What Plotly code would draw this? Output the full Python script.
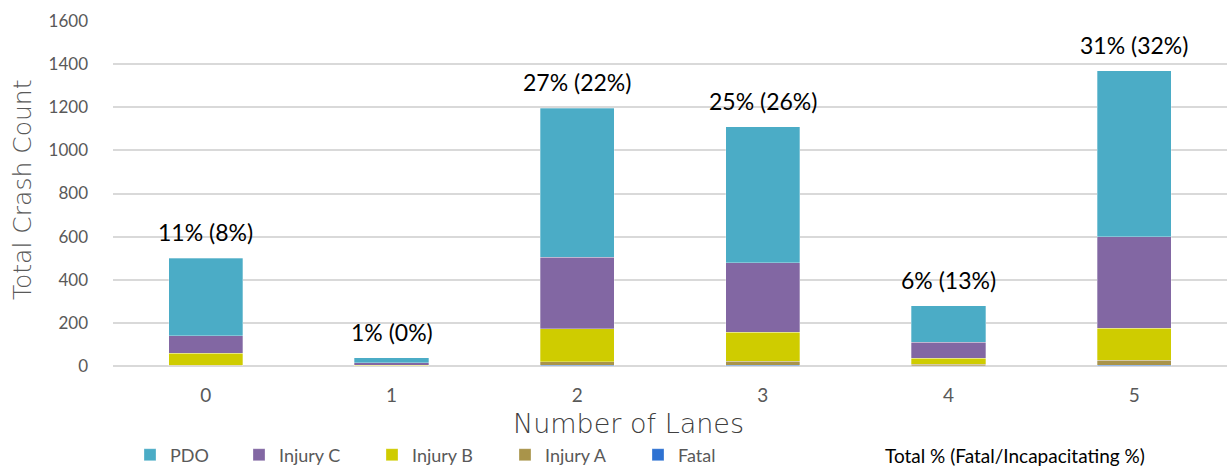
import plotly.graph_objects as go

lanes = ["0", "1", "2", "3", "4", "5"]
fatal = [1, 0, 3, 3, 1, 4]
injury_a = [3, 1, 17, 19, 7, 22]
injury_b = [56, 2, 152, 134, 29, 150]
injury_c = [80, 13, 333, 322, 74, 424]
pdo = [360, 22, 690, 632, 169, 770]
total_pct = ["11%", "1%", "27%", "25%", "6%", "31%"]
fatal_pct = ["8%", "0%", "22%", "26%", "13%", "32%"]

series = [
    ("Fatal", fatal, "#2E72D2", "legend2"),
    ("Injury A", injury_a, "#A9944A", "legend2"),
    ("Injury B", injury_b, "#CFCC00", "legend2"),
    ("Injury C", injury_c, "#8267A3", "legend2"),
    ("PDO", pdo, "#4BACC6", "legend"),
]

fig = go.Figure()
for name, vals, col, lg in series:
    fig.add_trace(go.Bar(x=lanes, y=vals, name=name, legend=lg,
                         marker=dict(color=col, line=dict(color="rgba(255,255,255,0.6)", width=0.5))))

totals = [sum(v) for v in zip(fatal, injury_a, injury_b, injury_c, pdo)]
annotations = []
for x, t, tp, fp in zip(lanes, totals, total_pct, fatal_pct):
    annotations.append(dict(x=x, y=t, xref="x", yref="y", text=f"{tp} ({fp})", showarrow=False,
                            yshift=26, yanchor="middle", font=dict(family="Lato", size=23, color="#000000")))

annotations.append(dict(x=22, y=190, xref="paper", yref="paper", text="Total Crash Count", showarrow=False,
                        textangle=-90, font=dict(family="DejaVu Sans", size=25, color="#595959", weight=200)))
annotations.append(dict(x=628, y=423, xref="paper", yref="paper", text="Number of Lanes", showarrow=False,
                        font=dict(family="DejaVu Sans", size=27, color="#404040", weight=200)))
annotations.append(dict(x=1015, y=455, xref="paper", yref="paper", text="Total % (Fatal/Incapacitating %)",
                        showarrow=False, font=dict(family="Lato", size=19, color="#000000")))

W, H = 1227, 468
y0 = 366
ml, mr, mt, mb = 113, 0, 21, H - y0
pw, ph = W - ml - mr, H - mt - mb
for a in annotations[-3:]:
    a["x"] = (a["x"] - ml) / pw
    a["y"] = (y0 - a["y"]) / ph
    a["xanchor"] = "center"
    a["yanchor"] = "middle"

leg_font = dict(family="Lato", size=18, color="#595959")
leg_y = (H - 455) / H

fig.update_layout(
    width=W, height=H,
    margin=dict(l=ml, r=mr, t=mt, b=mb, autoexpand=False),
    barmode="stack",
    bargap=0.6,
    plot_bgcolor="white",
    paper_bgcolor="white",
    font=dict(family="Lato", color="#595959"),
    showlegend=True,
    legend=dict(orientation="h", x=(130 - ml) / pw, y=leg_y, xanchor="left", yanchor="middle",
                yref="container", font=leg_font),
    legend2=dict(orientation="h", traceorder="reversed", x=(239 - ml) / pw, y=leg_y,
                 xanchor="left", yanchor="middle", yref="container",
                 entrywidth=88, entrywidthmode="pixels", font=leg_font),
    annotations=annotations,
    xaxis=dict(tickfont=dict(size=19, color="#595959"), showgrid=False, showline=False, ticks="",
               ticklabelstandoff=16),
    yaxis=dict(range=[0, 1600], dtick=200, tickfont=dict(size=17, color="#595959"),
               gridcolor="#D9D9D9", gridwidth=1.5, zeroline=True, zerolinecolor="#D9D9D9", zerolinewidth=1.5,
               ticks="", ticklabelstandoff=24),
)

fig.write_html("out.html", config={"displayModeBar": False},
               post_script="document.body.style.margin='0';document.body.style.overflow='hidden';")
